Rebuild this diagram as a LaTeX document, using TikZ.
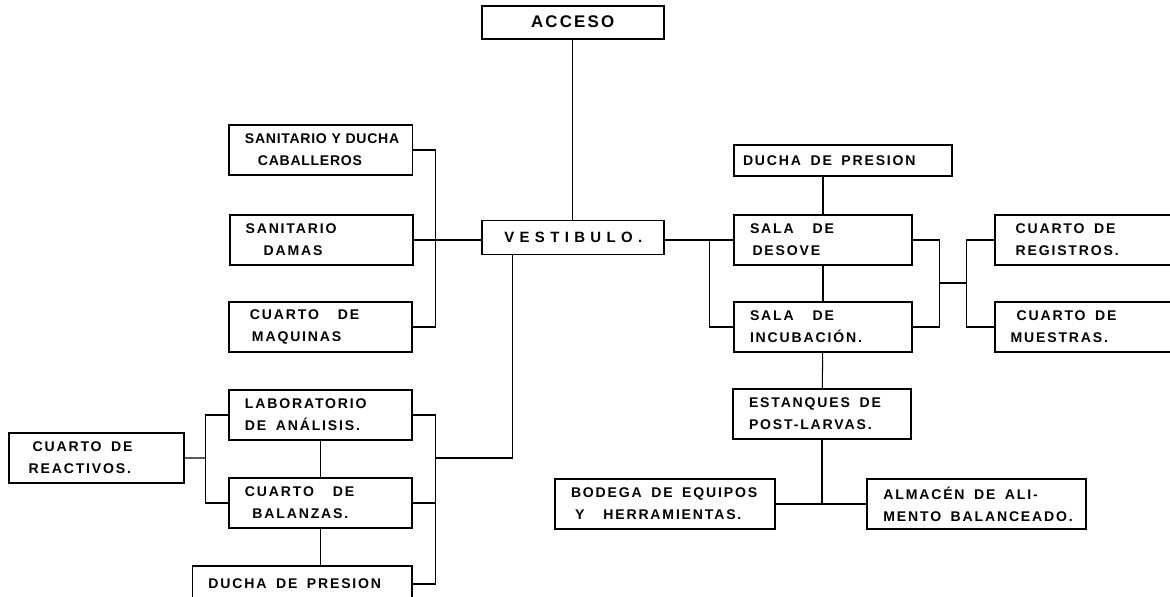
\documentclass[tikz,border=0pt]{standalone}
\usepackage{fontspec}
\setmainfont{Liberation Sans}
\newfontfamily\roomfont{Liberation Sans Bold}[LetterSpace=13]
\newfontfamily\tightfont{Liberation Sans Bold}[LetterSpace=5]
\newfontfamily\widefont{Liberation Sans Bold}[LetterSpace=36]
\newcommand\wsp{\hspace*{0.19cm}}
\hyphenpenalty=10000
\exhyphenpenalty=10000

\begin{document}
\begin{tikzpicture}[x=0.02cm, y=-0.02cm,
  room/.style={draw, line width=1.1pt, anchor=north west, outer sep=0pt,
    inner xsep=0.32cm, inner ysep=0pt, text width=#1, minimum height=1cm,
    align=left, font=\roomfont\fontsize{8}{12.5}\selectfont},
  hall/.style={draw, line width=1.1pt, anchor=north west, outer sep=0pt,
    inner sep=0pt, minimum width=3.64cm, minimum height=0.66cm, align=center},
  link/.style={line width=0.6pt}]
  \useasboundingbox (0,0) rectangle (1170,597);
  \clip (0,0) rectangle (1170,597);

  % centre
  \node[hall, font=\roomfont\fontsize{9.6}{12}\selectfont] (acceso) at (481.7,5.7) {ACCESO};
  \node[hall, minimum height=0.68cm, font=\widefont\fontsize{8.5}{12}\selectfont] (vest) at (482.3,220.5) {VESTIBULO.};

  % left side
  \node[room=3.03cm, font=\tightfont\fontsize{8}{12.5}\selectfont] (cab) at (229,125) {SANITARIO~Y~DUCHA\\\hspace*{0.26cm}CABALLEROS};
  \node[room=3.02cm] (damas) at (229.6,215) {SANITARIO\\\hspace*{0.36cm}DAMAS};
  \node[room=3.02cm] (maq) at (229,302) {\hspace*{0.1cm}CUARTO\wsp\wsp DE\\\hspace*{0.14cm}MAQUINAS};
  \node[room=3.02cm] (lab) at (229,390) {LABORATORIO\\DE\wsp ANÁLISIS.};
  \node[room=3.02cm] (bal) at (229,478) {CUARTO\wsp\wsp DE\\\hspace*{0.15cm}BALANZAS.};
  \node[room=3.76cm, minimum height=0.72cm] (duchaL) at (192.5,566) {DUCHA\wsp DE\wsp PRESION};
  \node[room=2.85cm] (reac) at (9.2,433) {\hspace*{0.15cm}CUARTO\wsp DE\\\hspace*{0.07cm}REACTIVOS.};

  % right side
  \node[room=3.72cm, minimum height=0.62cm] (duchaR) at (734,145) {\hspace*{-0.14cm}DUCHA\wsp DE\wsp PRESION};
  \node[room=2.92cm] (desove) at (734,215) {SALA\wsp\wsp DE\\\hspace*{0.05cm}DESOVE};
  \node[room=2.92cm] (incub) at (734,302) {SALA\wsp\wsp DE\\INCUBACIÓN.};
  \node[room=3.36cm] (regis) at (994.6,215) {\hspace*{0.1cm}CUARTO\wsp DE\\\hspace*{0.1cm}REGISTROS.};
  \node[room=3.36cm] (muestr) at (994.6,302) {\hspace*{0.12cm}CUARTO\wsp DE\\MUESTRAS.};
  \node[room=2.92cm] (estanq) at (733,389) {ESTANQUES\wsp DE\\POST-LARVAS.};
  \node[room=3.76cm] (bodega) at (555,479) {BODEGA\wsp DE\wsp EQUIPOS\\\hspace*{0.08cm}Y\wsp\wsp HERRAMIENTAS.};
  \node[room=3.73cm] (almacen) at (867.4,479) {ALMACÉN\wsp DE\wsp ALI-\\MENTO\wsp BALANCEADO.};

  % connectors, left
  \draw[link] (acceso) -- (acceso |- vest.north);
  \draw[link] (cab.east) -- ++(23,0) |- (maq.east);
  \draw[link] (damas.east) -- (damas.east -| vest.west);
  \coordinate (vlow) at (435.5,458);
  \draw[link] ([xshift=0.61cm]vest.south west) |- (vlow);
  \draw[link] (lab.east) -| (vlow) |- (duchaL.east);
  \draw[link] (bal.east) -- (bal.east -| vlow);
  \coordinate (rlow) at (205.9,458);
  \draw[link] (reac.east) -- (rlow);
  \draw[link] (lab.west) -| (rlow) |- (bal.west);
  \draw[link] (lab) -- (bal);
  \draw[link] (bal.south) -- (bal.south |- duchaL.north);

  % connectors, right
  \draw[link] (desove.west) -- (desove.west -| vest.east);
  \draw[link] (incub.west) -- ++(-24.2,0) |- (desove.west);
  \draw[link] (duchaR.south -| desove.north) -- (desove.north);
  \draw[link] (desove) -- (incub);
  \draw[link] (desove.east) -- ++(27.4,0) |- (incub.east);
  \coordinate (rjoin) at (939.4,283);
  \draw[link] (rjoin) -- ++(27.2,0);
  \draw[link] (regis.west) -- ++(-28,0) |- (muestr.west);
  \draw[link] (incub) -- (estanq);
  \draw[link] (estanq.south) -- (estanq.south |- bodega.east);
  \draw[link] (bodega.east) -- (almacen.west);
\end{tikzpicture}
\end{document}
